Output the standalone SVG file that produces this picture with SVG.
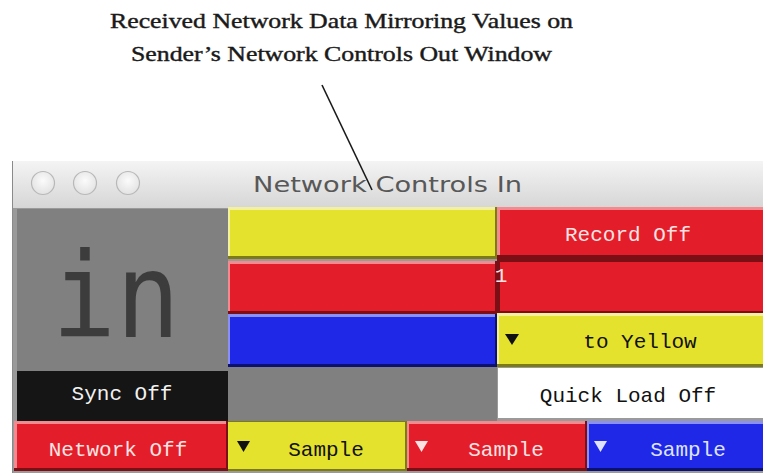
<svg xmlns="http://www.w3.org/2000/svg" width="763" height="475" viewBox="0 0 763 475">
  <defs>
    <linearGradient id="titlebar" x1="0" y1="0" x2="0" y2="1">
      <stop offset="0" stop-color="#f4f4f4"/>
      <stop offset="1" stop-color="#d6d6d6"/>
    </linearGradient>
    <radialGradient id="light" cx="0.5" cy="0.4" r="0.6">
      <stop offset="0" stop-color="#fbfbfb"/>
      <stop offset="1" stop-color="#e2e2e2"/>
    </radialGradient>
    <style>
      .note { font-family: "Liberation Serif", "Times New Roman", serif; font-size: 21px; fill: #1a1a1a; stroke: #1a1a1a; stroke-width: 0.4; }
      .title { font-family: "DejaVu Sans", "Noto Sans", sans-serif; font-size: 22px; fill: #585858; }
      .lbl { font-family: "Liberation Mono", "DejaVu Sans Mono", monospace; font-size: 21px; text-anchor: middle; }
      .dark { fill: #111; }
      .pale { fill: #fbe3e3; }
      .paleb { fill: #dfe3ff; }
      .yel { fill: #e5e22e; }
      .red { fill: #e31e2a; }
      .blu { fill: #1f28e6; }
      .hiY { fill: #f3f1a0; }
      .loY { fill: #7d7a18; }
      .hiR { fill: #f28a90; }
      .loR { fill: #7a0f15; }
      .hiB { fill: #8a90f5; }
      .loB { fill: #0c1070; }
    </style>
  </defs>

  <rect width="763" height="475" fill="#ffffff"/>

  <!-- annotation -->
  <g id="annotation">
    <text class="note" x="110" y="28" textLength="463" lengthAdjust="spacingAndGlyphs">Received Network Data Mirroring Values on</text>
    <text class="note" x="131" y="61" textLength="421" lengthAdjust="spacingAndGlyphs">Sender’s Network Controls Out Window</text>
  </g>

  <!-- window frame and title bar -->
  <g id="window">
    <rect x="12" y="161" width="760" height="312" fill="#9a9a9a"/>
    <rect x="13" y="161" width="760" height="47" fill="url(#titlebar)"/>
    <line x1="12.5" y1="161" x2="12.5" y2="473" stroke="#8a8a8a"/>
    <circle cx="43" cy="183" r="11.5" fill="url(#light)" stroke="#b8b8b8" stroke-width="1.2"/>
    <circle cx="85" cy="183" r="11.5" fill="url(#light)" stroke="#b8b8b8" stroke-width="1.2"/>
    <circle cx="128" cy="183" r="11.5" fill="url(#light)" stroke="#b8b8b8" stroke-width="1.2"/>
    <text class="title" x="253" y="192" textLength="269" lengthAdjust="spacingAndGlyphs">Network Controls In</text>
  </g>

  <!-- "in" panel -->
  <g id="in-panel">
    <rect x="17" y="209" width="211" height="162" fill="#808080"/>
    <text x="52" y="337" font-family="DejaVu Sans Mono, Liberation Mono, monospace" font-size="118" fill="#3c3c3c" textLength="128" lengthAdjust="spacingAndGlyphs">in</text>
  </g>

  <!-- sync toggle -->
  <g id="sync">
    <rect x="17" y="371" width="211" height="50" fill="#151515"/>
    <text class="lbl" x="122" y="400" fill="#f2f2f2" font-size="18">Sync Off</text>
  </g>

  <!-- middle column colour bars -->
  <g id="bar-yellow">
    <rect x="228" y="207" width="269" height="52" class="loY"/>
    <rect x="228" y="207" width="267" height="49" class="hiY"/>
    <rect x="230" y="210" width="265" height="46" class="yel"/>
  </g>
  <g id="bar-red">
    <rect x="228" y="261" width="269" height="53" class="loR"/>
    <rect x="228" y="261" width="267" height="50" class="hiR"/>
    <rect x="230" y="264" width="265" height="47" class="red"/>
  </g>
  <g id="bar-blue">
    <rect x="228" y="314" width="269" height="53" class="loB"/>
    <rect x="228" y="314" width="267" height="50" class="hiB"/>
    <rect x="230" y="317" width="265" height="47" class="blu"/>
  </g>
  <g id="bar-gray">
    <rect x="228" y="367" width="270" height="54" fill="#808080"/>
  </g>

  <!-- right column -->
  <g id="record">
    <rect x="497" y="207" width="266" height="52" class="loR"/>
    <rect x="497" y="207" width="266" height="48" class="hiR"/>
    <rect x="500" y="210" width="263" height="45" class="red"/>
    <text class="lbl pale" x="628" y="241">Record Off</text>
  </g>
  <g id="number">
    <rect x="497" y="259" width="266" height="54" class="loR"/>
    <rect x="500" y="262" width="263" height="49" class="red"/>
    <text class="lbl pale" x="501" y="282" text-anchor="start" font-size="19">1</text>
  </g>
  <g id="to-yellow">
    <rect x="497" y="313" width="266" height="54" class="loY"/>
    <rect x="497" y="313" width="266" height="51" class="hiY"/>
    <rect x="499" y="316" width="264" height="48" class="yel"/>
    <polygon points="505,334 519,334 512,345" class="dark"/>
    <text class="lbl dark" x="640" y="348">to Yellow</text>
  </g>
  <g id="quick-load">
    <rect x="497" y="367" width="266" height="54" fill="#9a9a9a"/>
    <rect x="498" y="368" width="265" height="50" fill="#ffffff"/>
    <text class="lbl dark" x="628" y="402">Quick Load Off</text>
  </g>

  <!-- bottom row -->
  <g id="network">
    <rect x="14" y="421" width="214" height="50" class="loR"/>
    <rect x="14" y="421" width="212" height="47" class="hiR"/>
    <rect x="17" y="424" width="209" height="44" class="red"/>
    <text class="lbl pale" x="118" y="456">Network Off</text>
  </g>
  <g id="sample-yellow">
    <rect x="228" y="421" width="179" height="50" class="loY"/>
    <rect x="228" y="422" width="177" height="47" class="yel"/>
    <polygon points="237,441 250,441 243.5,452" class="dark"/>
    <text class="lbl dark" x="326" y="456">Sample</text>
  </g>
  <g id="sample-red">
    <rect x="407" y="421" width="180" height="50" class="loR"/>
    <rect x="407" y="421" width="178" height="47" class="hiR"/>
    <rect x="409" y="424" width="176" height="44" class="red"/>
    <polygon points="415,441 428,441 421.5,452" class="pale"/>
    <text class="lbl pale" x="506" y="456">Sample</text>
  </g>
  <g id="sample-blue">
    <rect x="587" y="421" width="176" height="50" class="loB"/>
    <rect x="587" y="421" width="176" height="47" class="hiB"/>
    <rect x="589" y="424" width="174" height="44" class="blu"/>
    <polygon points="594,441 607,441 600.5,452" class="paleb"/>
    <text class="lbl paleb" x="688" y="456">Sample</text>
  </g>

  <!-- connector from annotation to the window title -->
  <g id="connectors">
    <line x1="322" y1="85" x2="372" y2="190" stroke="#1a1a1a" stroke-width="1.6"/>
  </g>
</svg>
